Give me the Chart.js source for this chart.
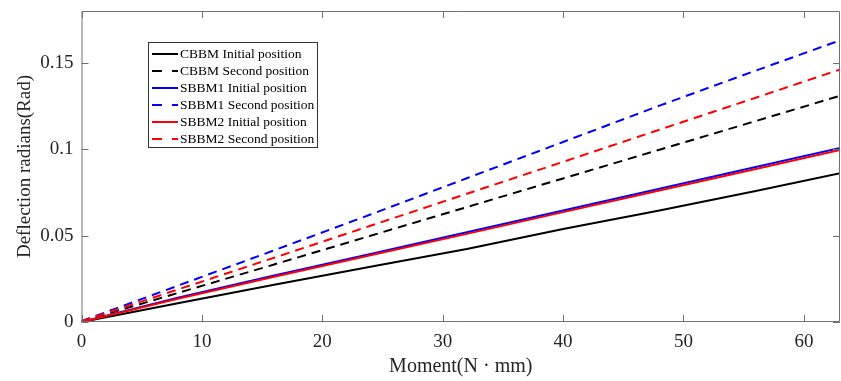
<!DOCTYPE html>
<html>
<head>
<meta charset="utf-8">
<script src="https://cdn.jsdelivr.net/npm/chart.js@4.4.1/dist/chart.umd.min.js"></script>
<style>
  html, body { margin: 0; padding: 0; background: #fff; }
  #wrap { width: 841px; height: 381px; position: relative; }
</style>
</head>
<body>
<div id="wrap"><canvas id="c" width="841" height="381"></canvas></div>
<script>
// Applied moment (N·mm) at each measured step
const moment = [0, 8, 16, 24, 32, 40, 48, 56, 64];

// Deflection (rad) for each beam model and mounting position
const cbbmInitial  = [0, 0.0108, 0.0215, 0.0320, 0.0422, 0.0538, 0.0645, 0.0758, 0.0876];
const cbbmSecond   = [0.0003, 0.0168, 0.0333, 0.0499, 0.0665, 0.0831, 0.0997, 0.1163, 0.1330];
const sbbm1Initial = [0, 0.0140, 0.0269, 0.0394, 0.0519, 0.0645, 0.0771, 0.0897, 0.1023];
const sbbm1Second  = [0.0005, 0.0210, 0.0415, 0.0622, 0.0832, 0.1042, 0.1252, 0.1455, 0.1655];
const sbbm2Initial = [0, 0.0135, 0.0262, 0.0386, 0.0510, 0.0636, 0.0761, 0.0886, 0.1011];
const sbbm2Second  = [0.0005, 0.0188, 0.0372, 0.0557, 0.0742, 0.0927, 0.1113, 0.1298, 0.1484];

const seriesNames = [
  'CBBM Initial position', 'CBBM Second position',
  'SBBM1 Initial position', 'SBBM1 Second position',
  'SBBM2 Initial position', 'SBBM2 Second position'
];

// Axis ticks
const xTicks = [0, 10, 20, 30, 40, 50, 60];
const yTicks = [0, 0.05, 0.1, 0.15];
const yTickLabels = ['0', '0.05', '0.1', '0.15'];

const SERIF = '"Liberation Serif", "Times New Roman", serif';
const DASH = [9, 6];

function toPoints(ys) { return moment.map((m, i) => ({ x: m, y: ys[i] })); }

const styles = [
  { color: '#000000', dash: [] },
  { color: '#000000', dash: DASH },
  { color: '#0000ff', dash: [] },
  { color: '#0000ff', dash: DASH },
  { color: '#ff0000', dash: [] },
  { color: '#ff0000', dash: DASH }
];
const allSeries = [cbbmInitial, cbbmSecond, sbbm1Initial, sbbm1Second, sbbm2Initial, sbbm2Second];

const datasets = allSeries.map((s, i) => ({
  label: seriesNames[i],
  data: toPoints(s),
  borderColor: styles[i].color,
  borderDash: styles[i].dash,
  borderWidth: 2,
  pointRadius: 0,
  fill: false,
  tension: 0,
  order: allSeries.length - i   // later series are painted on top
}));

// Boxed axes with inward tick marks on all four sides
const boxAxes = {
  id: 'boxAxes',
  afterDatasetsDraw(chart) {
    const { ctx, chartArea: a, scales: { x, y } } = chart;
    const len = 7;
    ctx.save();
    ctx.strokeStyle = '#707070';
    ctx.lineWidth = 1;
    ctx.beginPath();
    ctx.rect(a.left + 0.5, a.top + 0.5, a.right - a.left - 1, a.bottom - a.top - 1);
    xTicks.forEach(v => {
      const px = Math.round(x.getPixelForValue(v)) + 0.5;
      ctx.moveTo(px, a.bottom); ctx.lineTo(px, a.bottom - len);
      ctx.moveTo(px, a.top); ctx.lineTo(px, a.top + len);
    });
    yTicks.forEach(v => {
      const py = Math.round(y.getPixelForValue(v)) + 0.5;
      ctx.moveTo(a.left, py); ctx.lineTo(a.left + len, py);
      ctx.moveTo(a.right, py); ctx.lineTo(a.right - len, py);
    });
    ctx.stroke();
    ctx.restore();
  }
};

// Legend box placed inside the plot area
const insideLegend = {
  id: 'insideLegend',
  afterDraw(chart) {
    const { ctx } = chart;
    const left = 148, top = 42, w = 169, h = 105;
    const rowH = 17, firstRow = 54;
    ctx.save();
    ctx.fillStyle = '#ffffff';
    ctx.fillRect(left, top, w, h);
    ctx.strokeStyle = '#333333';
    ctx.lineWidth = 1;
    ctx.strokeRect(left + 0.5, top + 0.5, w, h);
    ctx.font = '13.5px ' + SERIF;
    ctx.textBaseline = 'middle';
    chart.data.datasets.forEach((ds, i) => {
      const yy = firstRow + i * rowH;
      ctx.strokeStyle = ds.borderColor;
      ctx.lineWidth = 2;
      ctx.beginPath();
      if (ds.borderDash.length) {
        ctx.moveTo(152, yy); ctx.lineTo(162, yy);
        ctx.moveTo(172, yy); ctx.lineTo(178, yy);
      } else {
        ctx.moveTo(152, yy); ctx.lineTo(178, yy);
      }
      ctx.stroke();
      ctx.fillStyle = '#000000';
      ctx.fillText(ds.label, 180, yy + 0.5);
    });
    ctx.restore();
  }
};

new Chart(document.getElementById('c'), {
  type: 'line',
  data: { datasets },
  plugins: [boxAxes, insideLegend],
  options: {
    responsive: false,
    animation: false,
    layout: { padding: { top: 11, right: 1, left: 14, bottom: 0 } },
    plugins: { legend: { display: false }, tooltip: { enabled: false } },
    scales: {
      x: {
        type: 'linear',
        min: 0, max: 63,
        afterBuildTicks: s => { s.ticks = xTicks.map(v => ({ value: v })); },
        afterFit: s => { s.height = 59; s.paddingLeft = 0; s.paddingRight = 0; },
        grid: { display: false, drawTicks: false },
        border: { display: false },
        ticks: {
          color: '#262626',
          font: { family: SERIF, size: 19 },
          padding: 9,
          maxRotation: 0,
          callback: v => String(v)
        },
        title: {
          display: true,
          text: 'Moment(N · mm)',
          color: '#262626',
          font: { family: SERIF, size: 20 },
          padding: { top: 0, bottom: 2 }
        }
      },
      y: {
        type: 'linear',
        min: 0, max: 0.18,
        afterBuildTicks: s => { s.ticks = yTicks.map(v => ({ value: v })); },
        afterFit: s => { s.width = 67.5; s.paddingTop = 0; s.paddingBottom = 0; },
        grid: { display: false, drawTicks: false },
        border: { display: false },
        ticks: {
          color: '#262626',
          font: { family: SERIF, size: 19 },
          padding: 8,
          callback: v => yTickLabels[yTicks.findIndex(t => Math.abs(t - v) < 1e-9)]
        },
        title: {
          display: true,
          text: 'Deflection radians(Rad)',
          color: '#262626',
          font: { family: SERIF, size: 19 },
          padding: { top: 0, bottom: 4 }
        }
      }
    }
  }
});
</script>
</body>
</html>
